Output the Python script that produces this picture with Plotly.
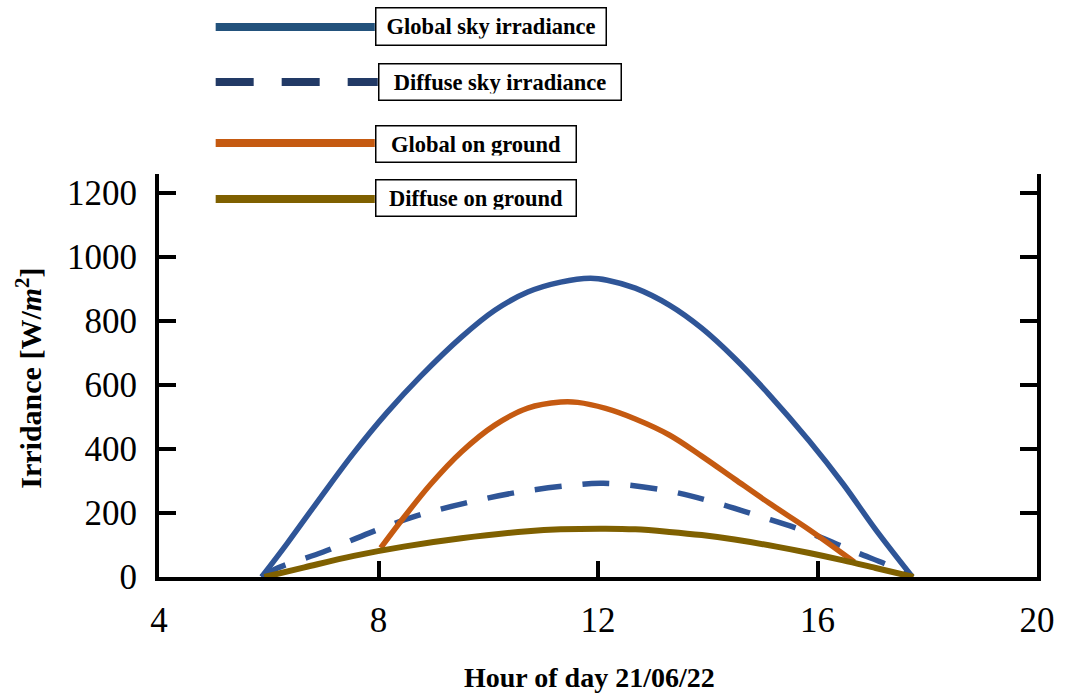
import plotly.graph_objects as go

# ---- data (hour of day, irradiance W/m2) ----
global_sky_x = [5.87, 6.34, 6.95, 7.55, 8.15, 8.77, 9.51, 10.12, 10.72, 11.32, 11.86, 12.17,
                12.68, 13.30, 13.89, 14.49, 15.11, 15.85, 16.47, 17.06, 17.73]
global_sky_y = [0, 106, 250, 388, 513, 628, 750, 834, 891, 922, 934, 928,
                903, 850, 778, 684, 572, 425, 290, 148, 0]

diffuse_sky_x = [5.87, 6.16, 6.99, 7.84, 8.69, 9.58, 10.47, 11.37, 12.10, 13.19, 14.07,
                 14.94, 15.81, 16.65, 17.46, 17.70]
diffuse_sky_y = [0, 28, 78, 138, 191, 231, 263, 284, 293, 272, 236,
                 190, 141, 81, 24, 0]

global_ground_x = [8.04, 8.46, 8.95, 9.51, 10.12, 10.72, 11.32, 11.63, 12.14, 12.68, 13.30, 13.89,
                   14.49, 15.11, 15.85, 16.47, 16.67]
global_ground_y = [91, 186, 290, 391, 475, 528, 547, 546, 527, 494, 444, 378,
                   306, 232, 148, 72, 47]

diffuse_ground_x = [5.92, 6.65, 7.55, 8.46, 9.51, 10.72, 11.32, 12.14, 12.68, 13.30,
                    13.89, 14.49, 15.25, 15.85, 16.47, 17.06, 17.75]
diffuse_ground_y = [0, 30, 66, 95, 121, 143, 149, 151, 149, 141,
                    131, 117, 95, 75, 52, 28, 0]

x_ticks = [4, 8, 12, 16, 20]
y_ticks = [0, 200, 400, 600, 800, 1000, 1200]

series_names = ["Global sky irradiance", "Diffuse sky irradiance", "Global on ground", "Diffuse on ground"]

BLUE = "#2F5597"
ORANGE = "#C55A11"
OLIVE = "#7F6000"
FONT = "Liberation Serif"

W, H = 1067, 694
L, R, T, B = 159, 25, 174, 117
PW, PH = W - L - R, H - T - B


def px(xp):
    return (xp - L) / PW


def py(yp):
    return (H - B - yp) / PH


fig = go.Figure()
fig.add_trace(go.Scatter(x=global_sky_x, y=global_sky_y, mode="lines", name=series_names[0],
                         line=dict(color=BLUE, width=5.5, shape="spline", smoothing=1.0)))
fig.add_trace(go.Scatter(x=diffuse_sky_x, y=diffuse_sky_y, mode="lines", name=series_names[1],
                         line=dict(color=BLUE, width=5.5, shape="spline", smoothing=1.0, dash="27px,21px")))
fig.add_trace(go.Scatter(x=global_ground_x, y=global_ground_y, mode="lines", name=series_names[2],
                         line=dict(color=ORANGE, width=5.5, shape="spline", smoothing=1.0)))
fig.add_trace(go.Scatter(x=diffuse_ground_x, y=diffuse_ground_y, mode="lines", name=series_names[3],
                         line=dict(color=OLIVE, width=6, shape="spline", smoothing=1.0)))

# custom legend: line samples + boxed labels
legend_items = [
    # (name, color, dash, line y px, box x0, box x1, box y0, box y1)
    (series_names[0], "#23527C", None, 27, 376, 608, 7, 46),
    (series_names[1], "#223A66", "38px,28px", 82, 379, 623, 63, 101),
    (series_names[2], ORANGE, None, 143, 376, 578, 125, 163),
    (series_names[3], OLIVE, None, 199, 376, 578, 179, 217),
]
shapes = []
annotations = []
for name, col, dash, ly, bx0, bx1, by0, by1 in legend_items:
    ln = dict(color=col, width=8)
    if dash:
        ln["dash"] = dash
    shapes.append(dict(type="line", xref="paper", yref="paper", x0=px(216), x1=px(bx0), y0=py(ly), y1=py(ly),
                       line=ln, layer="above"))
    pad, bw = 6, 1.5
    annotations.append(dict(
        xref="paper", yref="paper", x=px(bx0), y=py((by0 + by1) / 2), xanchor="left", yanchor="middle",
        text="<b>%s</b>" % name, showarrow=False, align="center",
        width=(bx1 - bx0) - 2 * pad - 2 * bw, height=(by1 - by0) - 2 * pad - 2 * bw,
        bordercolor="black", borderwidth=bw, borderpad=pad, bgcolor="white",
        font=dict(family=FONT, size=22.5, color="black")))

annotations.append(dict(xref="paper", yref="paper", x=px(592), y=py(677), xanchor="center", yanchor="middle",
                        text="<b>Hour of day 21/06/22</b>", showarrow=False,
                        font=dict(family=FONT, size=28, color="black")))
annotations.append(dict(xref="paper", yref="paper", x=px(28), y=py(378), xanchor="center", yanchor="middle",
                        text="<b>Irridance [W/<i>m</i><sup>2</sup>]</b>", showarrow=False, textangle=-90,
                        font=dict(family=FONT, size=30, color="black")))

fig.update_layout(
    width=W, height=H,
    margin=dict(l=L, r=R, t=T, b=B, pad=0),
    plot_bgcolor="white", paper_bgcolor="white",
    showlegend=False,
    shapes=shapes, annotations=annotations,
    font=dict(family=FONT, color="black"),
)
fig.update_xaxes(range=[4, 20], tickvals=x_ticks, ticktext=[str(v) for v in x_ticks],
                 showgrid=False, zeroline=False, showline=True, linecolor="black", linewidth=4,
                 ticks="inside", ticklen=16, tickwidth=4, tickcolor="black", mirror=False,
                 tickfont=dict(family=FONT, size=35, color="black"), ticklabelstandoff=9)
fig.update_yaxes(range=[0, 1260], tickvals=y_ticks, ticktext=[str(v) for v in y_ticks],
                 showgrid=False, zeroline=False, showline=True, linecolor="black", linewidth=4,
                 ticks="inside", ticklen=17, tickwidth=4, tickcolor="black", mirror="ticks",
                 tickfont=dict(family=FONT, size=35, color="black"), ticklabelstandoff=11)

fig.write_html("out.html")
